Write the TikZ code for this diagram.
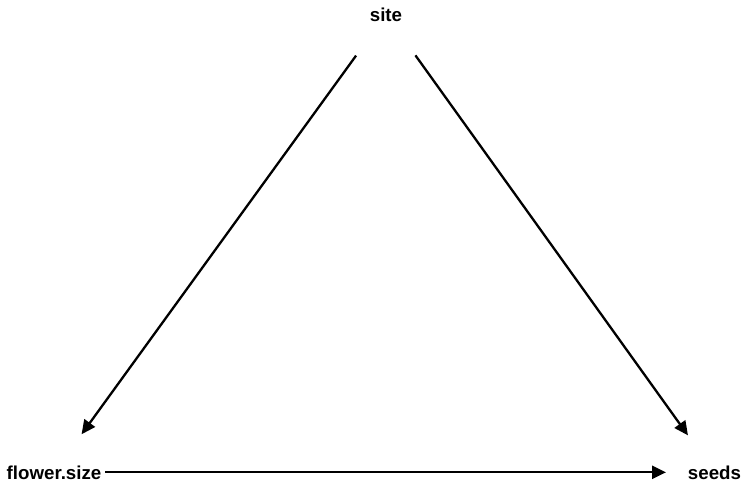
\documentclass[tikz,border=0pt]{standalone}
\usepackage{fontspec}
\setmainfont{Liberation Sans}
\usetikzlibrary{arrows.meta}
\begin{document}
\begin{tikzpicture}[x=1pt,y=-1pt,
  lbl/.style={font=\bfseries\fontsize{18.7}{20}\selectfont, inner sep=0pt, anchor=base},
  edge/.style={line width=2.3pt, -{Triangle[length=14pt,width=13pt]}}]
\useasboundingbox (0,0) rectangle (745,483);
\node[lbl] (site) at (386,21) {site};
\node[lbl] (flower) at (54,479) {flower.size};
\node[lbl] (seeds) at (714.5,479) {seeds};
\draw[edge, shorten <=51pt, shorten >=47pt] (site.center) -- (flower.center);
\draw[edge, shorten <=50.5pt, shorten >=45.5pt] (site.center) -- (seeds.center);
\draw[edge, shorten <=51pt, shorten >=48.5pt] (flower.center) -- (seeds.center);
\end{tikzpicture}
\end{document}
